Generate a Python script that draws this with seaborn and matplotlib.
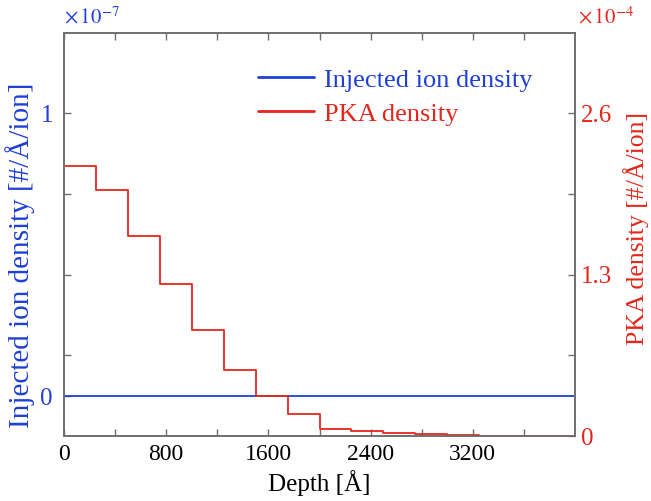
import numpy as np
import pandas as pd
import matplotlib
matplotlib.use("Agg")
import matplotlib.pyplot as plt
from matplotlib.ticker import FixedLocator
import seaborn as sns

# ---- data ----
depth_edges = [0, 250, 500, 750, 1000, 1250, 1500, 1750, 2000, 2250, 2500,
               2750, 3000, 3250, 3500, 3750, 4000]
pka_density = [2.17, 1.98, 1.61, 1.22, 0.85, 0.53, 0.32, 0.18, 0.055, 0.038,
               0.024, 0.016, 0.011, 0.002, 0.0, 0.0]          # x 1e-4
ion_density = [0.0] * 16                                      # x 1e-7
x_ticks = [0, 800, 1600, 2400, 3200]
x_minor = [400, 1200, 2000, 2800, 3600]
left_ticks = [0, 1]
right_ticks = [0, 1.3, 2.6]
right_minor = [0.65, 1.95]

sns.set_theme(style="white")
plt.rcParams['font.family'] = ['Liberation Serif', 'DejaVu Serif']
plt.rcParams['mathtext.fontset'] = 'stix'

BLUE = '#1f3fd6'
RED = '#e5261b'
SPINE = '#6e6e6e'
FS = 17

df = pd.DataFrame({
    'depth': depth_edges,
    'pka': pka_density + [pka_density[-1]],
    'ion': ion_density + [ion_density[-1]],
})

fig = plt.figure(figsize=(6.51, 5.01), dpi=100)
ax = fig.add_axes([0.0983, 0.1297, 0.785, 0.8043])
ax2 = ax.twinx()

left_lim = (-0.1413, 1.2827)
right_lim = (0, 3.244)

sns.lineplot(data=df, x='depth', y='ion', ax=ax, color=BLUE, lw=1.3,
             drawstyle='steps-post', label='Injected ion density', legend=False)
sns.lineplot(data=df, x='depth', y='pka', ax=ax2, color=RED, lw=1.3,
             drawstyle='steps-post', label='PKA density', legend=False)

ax.set_xlim(0, 4000)
ax.set_ylim(*left_lim)
ax2.set_ylim(*right_lim)

# ticks
ax.set_xticks(x_ticks)
ax.set_xticklabels([str(t) for t in x_ticks])
ax.xaxis.set_minor_locator(FixedLocator(x_minor))
ax.set_yticks(left_ticks)
ax.set_yticklabels(['0', '1'])
# left minor ticks aligned with right axis ticks
lm = [left_lim[0] + r / right_lim[1] * (left_lim[1] - left_lim[0])
      for r in right_minor + [1.3]]
ax.yaxis.set_minor_locator(FixedLocator(lm))
ax2.set_yticks(right_ticks)
ax2.set_yticklabels(['0', '1.3', '2.6'])
ax2.yaxis.set_minor_locator(FixedLocator(right_minor))

for a in (ax, ax2):
    for s in a.spines.values():
        s.set_color(SPINE)
        s.set_linewidth(1.2)
        s.set_visible(True)

ax.tick_params(axis='x', which='both', direction='in', top=True, bottom=True,
               length=5, width=1, color=SPINE, labelsize=FS, labelcolor='black', pad=6)
ax.tick_params(axis='y', which='both', direction='in', left=True, right=False,
               length=5, width=1, color=SPINE, labelsize=18, labelcolor=BLUE, pad=8)
ax2.tick_params(axis='y', which='both', direction='in', right=True, left=False,
                length=5, width=1, color=SPINE, labelsize=18, labelcolor=RED, pad=4)

ax.set_xlabel('Depth [Å]', fontsize=18, color='black', labelpad=3)
ax.set_ylabel('Injected ion density [#/Å/ion]', fontsize=21, color=BLUE)
ax2.set_ylabel('PKA density [#/Å/ion]', fontsize=18.5, color=RED)
ax.yaxis.set_label_coords(-0.057, 0.449)
ax2.yaxis.set_label_coords(1.093, 0.516)

ax.text(0.0, 1.012, r'$\times\,10^{-7}$', transform=ax.transAxes, color=BLUE,
        fontsize=15, ha='left', va='bottom')
ax2.text(1.005, 1.012, r'$\times\,10^{-4}$', transform=ax2.transAxes, color=RED,
         fontsize=15, ha='left', va='bottom')

h1, l1 = ax.get_legend_handles_labels()
h2, l2 = ax2.get_legend_handles_labels()
leg = ax2.legend(h1 + h2, l1 + l2, loc='upper left', bbox_to_anchor=(0.334, 0.972),
                 frameon=False, fontsize=19, handlelength=2.1, handletextpad=0.38,
                 labelspacing=0.4)
for t, c in zip(leg.get_texts(), [BLUE, RED]):
    t.set_color(c)
for ln in leg.get_lines():
    ln.set_linewidth(2)

fig.savefig('out.png', dpi=100)
